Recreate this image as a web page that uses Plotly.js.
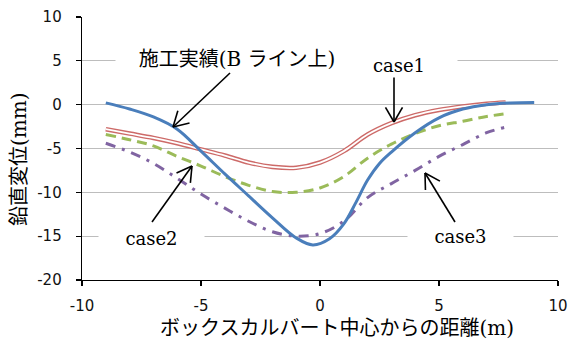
<!DOCTYPE html>
<html>
<head>
<meta charset="utf-8">
<script src="https://cdn.plot.ly/plotly-3.0.1.min.js"></script>
<style>html,body{margin:0;padding:0;background:#fff;}#chart{width:571px;height:343px;}</style>
</head>
<body>
<div id="chart"></div>
<script>
// ---- data ----
const xRecord = [-9,-8,-7,-6,-5,-4,-3,-2,-1,-0.3,0.4,1,1.5,2,2.5,3,4,5,6,7,8,9];
const yRecord = [0.2,-0.5,-1.4,-2.8,-5.3,-7.9,-10.4,-12.9,-15.2,-16.0,-15.3,-13.6,-11.2,-8.6,-6.7,-5.4,-3.2,-1.5,-0.5,0.0,0.2,0.25];

const xCase1 = [-9,-8,-7,-6,-5,-4,-3,-2,-1,0,1,2,3,4,5,6,7,7.8];
const yCase1 = [-2.8,-3.3,-3.8,-4.4,-5.1,-5.8,-6.6,-7.1,-7.2,-6.6,-5.3,-3.4,-2.1,-1.2,-0.6,-0.2,0.1,0.25];

const xCase2 = [-9,-8,-7,-6,-5,-4,-3,-2,-1,0,1,2,3,4,5,6,7,7.9];
const yCase2 = [-3.4,-4.0,-4.7,-5.9,-7.0,-8.2,-9.2,-9.9,-10.0,-9.5,-8.2,-6.1,-4.5,-3.3,-2.4,-1.9,-1.35,-1.0];

const xCase3 = [-9,-8,-7,-6,-5,-4,-3,-2,-1,0,1,2,3,4,5,6,7,7.75];
const yCase3 = [-4.4,-5.4,-6.7,-8.4,-10.2,-11.8,-13.3,-14.5,-15.0,-14.7,-13.3,-10.6,-9.0,-7.5,-5.9,-4.55,-3.2,-2.6];

const xTickVals = [-10,-5,0,5,10];
const xTickText = ['-10','-5','0','5','10'];
const yTickVals = [-20,-15,-10,-5,0,5,10];
const yTickText = ['-20','-15','-10','-5','0','5','10'];

const labelRecord = '施工実績(B ライン上)';
const labelCase1 = 'case1';
const labelCase2 = 'case2';
const labelCase3 = 'case3';
const xTitle = 'ボックスカルバート中心からの距離(m)';
const yTitle = '鉛直変位(mm)';

// ---- layout helpers ----
const W = 571, H = 343;
const M = {l: 82, r: 13, t: 17, b: 63};
const PW = W - M.l - M.r, PH = H - M.t - M.b;
const px = p => (p - M.l) / PW;
const py = p => (H - M.b - p) / PH;

const serif = 'DejaVu Serif, Noto Sans CJK JP, serif';

// arrows: [tailX, tailY, headX, headY] in pixels
const arrows = [
  [230, 73, 173, 127],
  [394, 77, 394, 122],
  [152, 222, 192, 166],
  [455, 222, 425, 173]
];
const shapes = [];
arrows.forEach(a => {
  const [tx, ty, hx, hy] = a;
  const lineStyle = {color: '#000', width: 1.6};
  shapes.push({type: 'line', xref: 'paper', yref: 'paper', x0: px(tx), y0: py(ty), x1: px(hx), y1: py(hy), line: lineStyle});
  const ang = Math.atan2(ty - hy, tx - hx);
  const L = 17, da = Math.PI / 6;
  [ang - da, ang + da].forEach(b => {
    shapes.push({type: 'line', xref: 'paper', yref: 'paper',
      x0: px(hx), y0: py(hy), x1: px(hx + L * Math.cos(b)), y1: py(hy + L * Math.sin(b)), line: lineStyle});
  });
});

const annotations = [
  {text: labelRecord, x: px(237), y: py(59), w: 240, size: 20},
  {text: labelCase1, x: px(399), y: py(65), w: 114, size: 18},
  {text: labelCase2, x: px(151), y: py(238), w: 103, size: 18},
  {text: labelCase3, x: px(460), y: py(236), w: 103, size: 18}
].map(a => ({
  text: a.text, xref: 'paper', yref: 'paper', x: a.x, y: a.y,
  xanchor: 'center', yanchor: 'middle', showarrow: false,
  bgcolor: '#ffffff', width: a.w, height: 22,
  font: {family: serif, size: a.size, color: '#000'}
}));

annotations.push({
  text: xTitle, xref: 'paper', yref: 'paper', x: px(337), y: py(328),
  xanchor: 'center', yanchor: 'middle', showarrow: false,
  font: {family: serif, size: 20, color: '#000'}
});
annotations.push({
  text: yTitle, xref: 'paper', yref: 'paper', x: px(19), y: py(159),
  xanchor: 'center', yanchor: 'middle', showarrow: false, textangle: -90,
  font: {family: serif, size: 20, color: '#000'}
});

const traces = [
  {x: xCase3, y: yCase3, mode: 'lines', line: {color: '#8064a2', width: 3, dash: '10px,7px,3px,7px', shape: 'spline'}},
  {x: xCase2, y: yCase2, mode: 'lines', line: {color: '#9bbb59', width: 3, dash: '10px,6px', shape: 'spline'}},
  {x: xCase1, y: yCase1, mode: 'lines', line: {color: '#cd6a68', width: 4.6, shape: 'spline'}},
  {x: xCase1, y: yCase1, mode: 'lines', line: {color: '#ffffff', width: 1.8, shape: 'spline'}},
  {x: xRecord, y: yRecord, mode: 'lines', line: {color: '#4a7ebb', width: 3, shape: 'spline'}}
];

const tickFont = {family: 'DejaVu Sans, Verdana, sans-serif', size: 15, color: '#111'};

const layout = {
  width: W, height: H,
  margin: M,
  paper_bgcolor: '#fff', plot_bgcolor: '#fff',
  showlegend: false,
  xaxis: {
    range: [-10, 10], tickvals: xTickVals, ticktext: xTickText, showgrid: false, zeroline: false,
    showline: true, linecolor: '#000', linewidth: 1.3,
    ticks: 'outside', ticklen: 5, tickcolor: '#000', tickwidth: 1.3,
    tickfont: tickFont, ticklabelstandoff: 7
  },
  yaxis: {
    range: [-20, 10], tickvals: yTickVals, ticktext: yTickText, showgrid: true, gridcolor: '#bdbdbd', gridwidth: 1,
    zeroline: false, showline: true, linecolor: '#000', linewidth: 1.3,
    ticks: 'outside', ticklen: 5, tickcolor: '#000', tickwidth: 1.3,
    tickfont: tickFont, ticklabelstandoff: 11
  },
  shapes: shapes,
  annotations: annotations
};

Plotly.newPlot('chart', traces, layout, {staticPlot: true, displayModeBar: false});
</script>
</body>
</html>
